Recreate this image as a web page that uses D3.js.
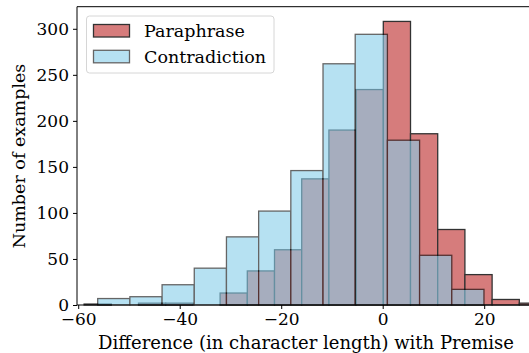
<!DOCTYPE html>
<html>
<head>
<meta charset="utf-8">
<script src="https://cdnjs.cloudflare.com/ajax/libs/d3/7.8.5/d3.min.js"></script>
<style>
  body { margin: 0; background: #fff; }
  svg { display: block; }
  text { font-family: "DejaVu Serif", serif; fill: #000; }
</style>
</head>
<body>
<svg id="chart" width="529" height="353"></svg>
<script>
// histogram bins
var paraStart = -58.84, paraWidth = 5.36;
var paraCounts = [1, 0, 2, 2, 0, 13, 37, 60, 137, 190, 234, 308, 186, 82, 33, 6, 2];

var contraStart = -56.16, contraWidth = 6.343;
var contraCounts = [7, 9, 22, 40, 74, 102, 146, 262, 294, 179, 54, 17];

var xTicks = [-60, -40, -20, 0, 20];
var yTicks = [0, 50, 100, 150, 200, 250, 300];

var seriesNames = ["Paraphrase", "Contradiction"];

var svg = d3.select("#chart");
var mLeft = 77, mRight = 529, mTop = 6.7, mBottom = 305;

var x = d3.scaleLinear().domain([-60.24, 28.83]).range([mLeft, mRight]);
var y = d3.scaleLinear().domain([0, 324]).range([mBottom, mTop]);

function toBins(start, width, counts) {
	return counts.map(function(c, i) {
		return { x0: start + i * width, x1: start + (i + 1) * width, n: c };
	});
}

var series = [
	{ name: seriesNames[0], bins: toBins(paraStart, paraWidth, paraCounts), fill: "#cd5c5c", alpha: 0.8 },
	{ name: seriesNames[1], bins: toBins(contraStart, contraWidth, contraCounts), fill: "#87ceeb", alpha: 0.6 }
];

var plot = svg.append("g");

series.forEach(function(s) {
	plot.append("g")
		.attr("opacity", s.alpha)
		.selectAll("rect")
		.data(s.bins.filter(function(b) { return b.n > 0; }))
		.join("rect")
		.attr("x", function(b) { return x(b.x0); })
		.attr("y", function(b) { return y(b.n); })
		.attr("width", function(b) { return x(b.x1) - x(b.x0); })
		.attr("height", function(b) { return y(0) - y(b.n); })
		.attr("fill", s.fill)
		.attr("stroke", "#000")
		.attr("stroke-width", 1.3);
});

// spines (right one falls off the picture)
svg.append("line").attr("x1", mLeft).attr("x2", mRight).attr("y1", mTop).attr("y2", mTop)
	.attr("stroke", "#000").attr("stroke-width", 1);

var xAxis = svg.append("g")
	.attr("transform", "translate(0," + mBottom + ")")
	.call(d3.axisBottom(x).tickValues(xTicks).tickSize(4).tickPadding(4));
var yAxis = svg.append("g")
	.attr("transform", "translate(" + mLeft + ",0)")
	.call(d3.axisLeft(y).tickValues(yTicks).tickSize(4).tickPadding(4));

[xAxis, yAxis].forEach(function(a) {
	a.select(".domain").attr("stroke", "#000").attr("stroke-width", 1);
	a.selectAll(".tick line").attr("stroke", "#000");
	a.selectAll("text").style("font-family", "DejaVu Serif").style("font-size", "17px");
});
xAxis.select(".domain").attr("d", "M" + mLeft + ",0H" + mRight);
yAxis.select(".domain").attr("d", "M0," + mTop + "V" + mBottom);

svg.append("text")
	.attr("x", 306).attr("y", 349)
	.attr("text-anchor", "middle")
	.style("font-size", "18px")
	.text("Difference (in character length) with Premise");

svg.append("text")
	.attr("transform", "translate(25,156) rotate(-90)")
	.attr("text-anchor", "middle")
	.style("font-size", "17.5px")
	.text("Number of examples");

// legend
var legend = svg.append("g");
legend.append("rect")
	.attr("x", 86.5).attr("y", 16).attr("width", 187.5).attr("height", 57)
	.attr("rx", 3)
	.attr("fill", "#fff").attr("fill-opacity", 0.8)
	.attr("stroke", "#d6d6d6").attr("stroke-width", 1);

series.forEach(function(s, i) {
	var gy = 24.5 + i * 25.8;
	legend.append("rect")
		.attr("x", 93.5).attr("y", gy).attr("width", 36).attr("height", 12.5)
		.attr("fill", s.fill).attr("stroke", "#000").attr("stroke-width", 1.3)
		.attr("opacity", s.alpha);
	legend.append("text")
		.attr("x", 144).attr("y", gy + 12.5)
		.style("font-size", "17.5px")
		.text(s.name);
});
</script>
</body>
</html>
